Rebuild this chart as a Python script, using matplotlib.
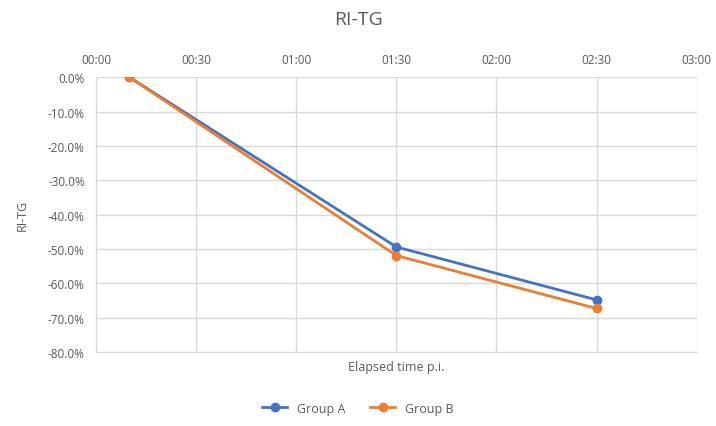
import matplotlib.pyplot as plt
from matplotlib.ticker import FuncFormatter, MultipleLocator

plt.rcParams['font.family'] = ['Open Sans', 'DejaVu Sans']

# elapsed time in minutes after infection
times = [10, 90, 150]
group_a = [0.0, -49.4, -64.8]
group_b = [0.0, -51.9, -67.3]
series = {'Group A': (group_a, '#4472C4'), 'Group B': (group_b, '#ED7D31')}

text_col = '#595959'
grid_col = '#D9D9D9'

fig = plt.figure(figsize=(7.16, 4.27), dpi=100)
ax = fig.add_axes([0.134, 0.173, 0.839, 0.644])

for name, (vals, col) in series.items():
    ax.plot(times, vals, color=col, lw=2, marker='o', markersize=6, label=name, zorder=3)

ax.set_xlim(0, 180)
ax.set_ylim(-80, 0)
ax.xaxis.set_major_locator(MultipleLocator(30))
ax.yaxis.set_major_locator(MultipleLocator(10))
ax.xaxis.set_major_formatter(FuncFormatter(lambda v, p: f"{int(v) // 60:02d}:{int(v) % 60:02d}"))
ax.yaxis.set_major_formatter(FuncFormatter(lambda v, p: f"{v:.1f}%"))
ax.xaxis.tick_top()
ax.xaxis.set_label_position('bottom')
ax.tick_params(length=0, labelsize=8.5, colors=text_col, pad=8)
ax.grid(True, color=grid_col, lw=1)
ax.set_axisbelow(True)
for s in ['top', 'right']:
    ax.spines[s].set_visible(False)
ax.spines['left'].set_color(grid_col)
ax.spines['bottom'].set_color(grid_col)

ax.set_xlabel('Elapsed time p.i.', fontsize=9, color=text_col, labelpad=6)
ax.set_ylabel('RI-TG', fontsize=9, color=text_col, labelpad=14)
fig.suptitle('RI-TG', fontsize=14, color=text_col, y=0.975)

fig.legend(loc='lower center', ncol=2, frameon=False, fontsize=9, labelcolor=text_col,
           bbox_to_anchor=(0.5, 0.0), handlelength=2.0, columnspacing=2)

fig.savefig('out.png', dpi=100)
